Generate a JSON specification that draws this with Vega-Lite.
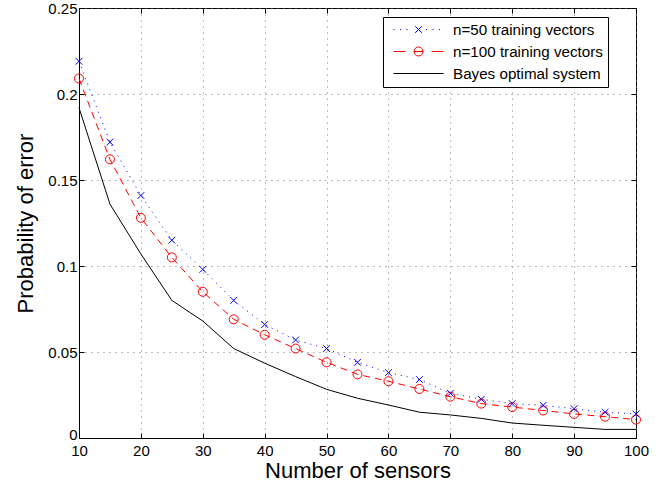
{
  "$schema": "https://vega.github.io/schema/vega-lite/v6.json",
  "autosize": {"type": "none"},
  "padding": {"left": 79, "top": 8, "right": 35, "bottom": 51},
  "width": 557,
  "height": 430,
  "background": "white",
  "config": {
    "view": {"stroke": "black", "strokeWidth": 1},
    "font": "Liberation Sans",
    "axis": {
      "labelFont": "Liberation Sans",
      "titleFont": "Liberation Sans",
      "labelFontSize": 15,
      "titleFontSize": 22,
      "titleFontWeight": "normal",
      "labelColor": "black",
      "titleColor": "black",
      "domainColor": "black",
      "tickColor": "black",
      "tickSize": -5,
      "labelFlush": false,
      "gridColor": "#777777",
      "gridDash": [1, 5],
      "gridWidth": 1,
      "gridOpacity": 1
    },
    "legend": {
      "labelFont": "Liberation Sans",
      "labelFontSize": 15.2,
      "labelColor": "black"
    }
  },
  "data": {
    "values": [
      {"x": 10, "series": "n=50 training vectors", "v": 0.219},
      {"x": 15, "series": "n=50 training vectors", "v": 0.172},
      {"x": 20, "series": "n=50 training vectors", "v": 0.141},
      {"x": 25, "series": "n=50 training vectors", "v": 0.115},
      {"x": 30, "series": "n=50 training vectors", "v": 0.098},
      {"x": 35, "series": "n=50 training vectors", "v": 0.080},
      {"x": 40, "series": "n=50 training vectors", "v": 0.066},
      {"x": 45, "series": "n=50 training vectors", "v": 0.057},
      {"x": 50, "series": "n=50 training vectors", "v": 0.052},
      {"x": 55, "series": "n=50 training vectors", "v": 0.044},
      {"x": 60, "series": "n=50 training vectors", "v": 0.038},
      {"x": 65, "series": "n=50 training vectors", "v": 0.034},
      {"x": 70, "series": "n=50 training vectors", "v": 0.026},
      {"x": 75, "series": "n=50 training vectors", "v": 0.0225},
      {"x": 80, "series": "n=50 training vectors", "v": 0.020},
      {"x": 85, "series": "n=50 training vectors", "v": 0.019},
      {"x": 90, "series": "n=50 training vectors", "v": 0.017},
      {"x": 95, "series": "n=50 training vectors", "v": 0.015},
      {"x": 100, "series": "n=50 training vectors", "v": 0.014},
      {"x": 10, "series": "n=100 training vectors", "v": 0.209},
      {"x": 15, "series": "n=100 training vectors", "v": 0.162},
      {"x": 20, "series": "n=100 training vectors", "v": 0.128},
      {"x": 25, "series": "n=100 training vectors", "v": 0.105},
      {"x": 30, "series": "n=100 training vectors", "v": 0.085},
      {"x": 35, "series": "n=100 training vectors", "v": 0.069},
      {"x": 40, "series": "n=100 training vectors", "v": 0.060},
      {"x": 45, "series": "n=100 training vectors", "v": 0.052},
      {"x": 50, "series": "n=100 training vectors", "v": 0.044},
      {"x": 55, "series": "n=100 training vectors", "v": 0.037},
      {"x": 60, "series": "n=100 training vectors", "v": 0.033},
      {"x": 65, "series": "n=100 training vectors", "v": 0.0285},
      {"x": 70, "series": "n=100 training vectors", "v": 0.024},
      {"x": 75, "series": "n=100 training vectors", "v": 0.020},
      {"x": 80, "series": "n=100 training vectors", "v": 0.018},
      {"x": 85, "series": "n=100 training vectors", "v": 0.016},
      {"x": 90, "series": "n=100 training vectors", "v": 0.014},
      {"x": 95, "series": "n=100 training vectors", "v": 0.0124},
      {"x": 100, "series": "n=100 training vectors", "v": 0.0107},
      {"x": 10, "series": "Bayes optimal system", "v": 0.192},
      {"x": 15, "series": "Bayes optimal system", "v": 0.136},
      {"x": 20, "series": "Bayes optimal system", "v": 0.107},
      {"x": 25, "series": "Bayes optimal system", "v": 0.080},
      {"x": 30, "series": "Bayes optimal system", "v": 0.068},
      {"x": 35, "series": "Bayes optimal system", "v": 0.052},
      {"x": 40, "series": "Bayes optimal system", "v": 0.0435},
      {"x": 45, "series": "Bayes optimal system", "v": 0.0357},
      {"x": 50, "series": "Bayes optimal system", "v": 0.0283},
      {"x": 55, "series": "Bayes optimal system", "v": 0.0231},
      {"x": 60, "series": "Bayes optimal system", "v": 0.0192},
      {"x": 65, "series": "Bayes optimal system", "v": 0.015},
      {"x": 70, "series": "Bayes optimal system", "v": 0.0134},
      {"x": 75, "series": "Bayes optimal system", "v": 0.0114},
      {"x": 80, "series": "Bayes optimal system", "v": 0.0087},
      {"x": 85, "series": "Bayes optimal system", "v": 0.0074},
      {"x": 90, "series": "Bayes optimal system", "v": 0.0062},
      {"x": 95, "series": "Bayes optimal system", "v": 0.005},
      {"x": 100, "series": "Bayes optimal system", "v": 0.005}
    ]
  },
  "resolve": {"axis": {"x": "independent", "y": "independent"}},
  "layer": [
    {
      "transform": [{"filter": {"field": "series", "equal": "Bayes optimal system"}}],
      "mark": {"type": "line", "color": "black", "strokeWidth": 1},
      "encoding": {
        "x": {"field": "x", "type": "quantitative",
              "scale": {"domain": [10, 100], "nice": false, "zero": false},
              "axis": {"orient": "bottom", "values": [10,20,30,40,50,60,70,80,90,100], "grid": true,
                       "title": "Number of sensors", "labelPadding": 10, "titlePadding": 2.5}},
        "y": {"field": "v", "type": "quantitative",
              "scale": {"domain": [0, 0.25], "nice": false, "zero": false},
              "axis": {"orient": "left", "values": [0,0.05,0.1,0.15,0.2,0.25], "format": "~g", "grid": true,
                       "title": "Probability of error", "labelPadding": 7, "titlePadding": 10,
                       "labelOffset": {"condition": {"test": "datum.value === 0", "value": -4}, "value": 0}}}
      }
    },
    {
      "transform": [{"filter": {"field": "series", "equal": "n=100 training vectors"}}],
      "mark": {"type": "line", "color": "#ff0000", "strokeWidth": 1, "strokeDash": [7, 5]},
      "encoding": {
        "x": {"field": "x", "type": "quantitative",
              "axis": {"orient": "top", "values": [10,20,30,40,50,60,70,80,90,100], "grid": false, "labels": false, "title": null, "domain": false}},
        "y": {"field": "v", "type": "quantitative",
              "axis": {"orient": "right", "values": [0,0.05,0.1,0.15,0.2,0.25], "grid": false, "labels": false, "title": null, "domain": false}}
      }
    },
    {
      "transform": [{"filter": {"field": "series", "equal": "n=50 training vectors"}}],
      "mark": {"type": "line", "color": "#0000ff", "strokeWidth": 1, "strokeDash": [1, 5]},
      "encoding": {
        "x": {"field": "x", "type": "quantitative", "axis": null},
        "y": {"field": "v", "type": "quantitative", "axis": null}
      }
    },
    {
      "transform": [{"filter": {"field": "series", "equal": "n=100 training vectors"}}],
      "mark": {"type": "point", "shape": "circle", "filled": false, "stroke": "#ff0000", "strokeWidth": 1, "size": 81, "opacity": 1},
      "encoding": {
        "x": {"field": "x", "type": "quantitative", "axis": null},
        "y": {"field": "v", "type": "quantitative", "axis": null}
      }
    },
    {
      "transform": [{"filter": {"field": "series", "equal": "n=50 training vectors"}}],
      "mark": {"type": "point", "shape": "M-1,-1L1,1M-1,1L1,-1", "filled": false, "stroke": "#0000ff", "strokeWidth": 1, "size": 45, "opacity": 1},
      "encoding": {
        "x": {"field": "x", "type": "quantitative", "axis": null},
        "y": {"field": "v", "type": "quantitative", "axis": null}
      }
    },
    {
      "transform": [{"filter": "false"}],
      "mark": {"type": "point", "filled": false, "strokeWidth": 1, "opacity": 1},
      "encoding": {
        "color": {"field": "series", "type": "nominal",
                  "scale": {"domain": ["n=50 training vectors", "n=100 training vectors", "Bayes optimal system"],
                            "range": ["#0000ff", "#ff0000", "#000000"]},
                  "legend": {"title": null, "orient": "none", "legendX": 304, "legendY": 9,
                             "strokeColor": "black", "fillColor": "white", "padding": 5,
                             "symbolSize": 2500, "symbolStrokeWidth": 1, "labelOffset": 9, "symbolOffset": 5,
                             "clipHeight": 15, "rowPadding": 6, "cornerRadius": 0}},
        "shape": {"field": "series", "type": "nominal",
                  "scale": {"domain": ["n=50 training vectors", "n=100 training vectors", "Bayes optimal system"],
                            "range": [
                              "M-1,0H-0.96M-0.74,0H-0.7M-0.48,0H-0.44M0.3,0H0.34M0.56,0H0.6M0.82,0H0.86M-0.13,-0.13L0.13,0.13M-0.13,0.13L0.13,-0.13",
                              "M-1,0H-0.52M0.52,0H1M-0.18,0H0.18M0.18,0A0.18,0.18 0 1,1 -0.18,0A0.18,0.18 0 1,1 0.18,0",
                              "M-1,0H1"
                            ]},
                  "legend": {"title": null, "orient": "none", "legendX": 304, "legendY": 9,
                             "strokeColor": "black", "fillColor": "white", "padding": 5,
                             "symbolSize": 2500, "symbolStrokeWidth": 1, "labelOffset": 9, "symbolOffset": 5,
                             "clipHeight": 15, "rowPadding": 6, "cornerRadius": 0}}
      }
    }
  ]
}
